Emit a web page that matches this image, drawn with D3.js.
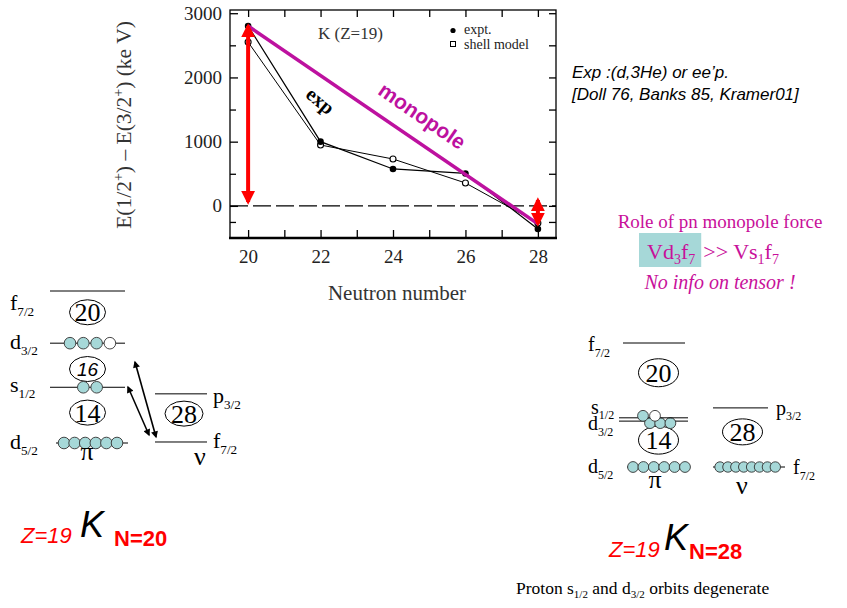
<!DOCTYPE html>
<html>
<head>
<meta charset="utf-8">
<script src="https://cdn.jsdelivr.net/npm/d3@7"></script>
<style>
  body { margin: 0; background: #fff; }
  svg { display: block; }
  .serif { font-family: "Liberation Serif", "Times New Roman", serif; }
  .sans { font-family: "Liberation Sans", Arial, sans-serif; }
</style>
</head>
<body>
<div id="chart"></div>
<script>
// chart data
var neutronNumbers = [20, 22, 24, 26, 28];
var exptValues = [2800, 1000, 575, 505, -360];
var shellModelValues = [2550, 948, 730, 357, -266];
var monopoleN = [20, 28];
var monopoleValues = [2800, -280];
var arrowN = [20, 28];
var arrowTop = [2800, 92];
var arrowBottom = [60, -280];
var yMajorTicks = [0, 1000, 2000, 3000];
var yMinorTicks = [-250, 500, 1500, 2500];
var xTicks = [20, 22, 24, 26, 28];
var xMinorTicks = [21, 23, 25, 27];

// level schemes (energy in arbitrary units, occupation of each orbit)
var leftProton = [
  {orb: "d", j: "5/2", e: 0, full: 6, empty: 0},
  {orb: "s", j: "1/2", e: 1.1, full: 2, empty: 0},
  {orb: "d", j: "3/2", e: 1.97, full: 3, empty: 1},
  {orb: "f", j: "7/2", e: 3, full: 0, empty: 0}
];
var leftProtonGaps = [{n: "14", e: 0.6}, {n: "16", e: 1.46, italic: true}, {n: "20", e: 2.58}];
var leftNeutron = [
  {orb: "f", j: "7/2", e: 0.02, full: 0, empty: 0},
  {orb: "p", j: "3/2", e: 0.97, full: 0, empty: 0}
];
var leftNeutronGaps = [{n: "28", e: 0.58}];

var rightProton = [
  {orb: "d", j: "5/2", e: 0, full: 6, empty: 0},
  {orb: "d", j: "3/2", e: 1.11, full: 3, empty: 0},
  {orb: "s", j: "1/2", e: 1.19, full: 1, empty: 1},
  {orb: "f", j: "7/2", e: 3, full: 0, empty: 0}
];
var rightProtonGaps = [{n: "14", e: 0.65}, {n: "20", e: 2.28}];
var rightNeutron = [
  {orb: "f", j: "7/2", e: 0, full: 8, empty: 0},
  {orb: "p", j: "3/2", e: 1.43, full: 0, empty: 0}
];
var rightNeutronGaps = [{n: "28", e: 0.85}];

var W = 847, H = 608;
var svg = d3.select("#chart").append("svg").attr("width", W).attr("height", H);

var magenta = "#bd119f";
var pink = "#c8109a";
var ballFill = "#a6d8d8";

// ---------------- chart ----------------
var x = d3.scaleLinear().domain([19.5, 28.5]).range([230, 556]);
var y = d3.scaleLinear().domain([-500, 3050]).range([238, 10]);

var g = svg.append("g");

g.append("line").attr("x1", x(19.5)).attr("x2", x(28.5)).attr("y1", y(0)).attr("y2", y(0))
  .attr("stroke", "#000").attr("stroke-width", 1.2).attr("stroke-dasharray", "18,5");

function styleAxis(sel) {
  sel.select(".domain").remove();
  sel.selectAll(".tick line").attr("stroke", "#000").attr("stroke-width", 1.3);
  sel.selectAll("text").attr("class", "serif").attr("font-size", 19).attr("fill", "#222");
}

g.append("g").attr("transform", "translate(" + x(19.5) + ",0)")
  .call(d3.axisLeft(y).tickValues(yMajorTicks).tickSize(-8).tickPadding(8).tickFormat(d3.format("d")))
  .call(styleAxis);
g.append("g").attr("transform", "translate(" + x(19.5) + ",0)")
  .call(d3.axisLeft(y).tickValues(yMinorTicks).tickSize(-6).tickFormat(""))
  .call(styleAxis);
g.append("g").attr("transform", "translate(" + x(28.5) + ",0)")
  .call(d3.axisRight(y).tickValues(yMajorTicks.concat(yMinorTicks)).tickSize(-7).tickFormat(""))
  .call(styleAxis);
g.append("g").attr("transform", "translate(0," + y(-500) + ")")
  .call(d3.axisBottom(x).tickValues(xTicks).tickSize(-8).tickPadding(12).tickFormat(d3.format("d")))
  .call(styleAxis);
g.append("g").attr("transform", "translate(0," + y(-500) + ")")
  .call(d3.axisBottom(x).tickValues(xMinorTicks).tickSize(-8).tickFormat(""))
  .call(styleAxis);
g.append("g").attr("transform", "translate(0," + y(3050) + ")")
  .call(d3.axisTop(x).tickValues(xTicks.concat(xMinorTicks)).tickSize(-7).tickFormat(""))
  .call(styleAxis);

g.append("rect").attr("x", x(19.5)).attr("y", y(3050))
  .attr("width", x(28.5) - x(19.5)).attr("height", y(-500) - y(3050))
  .attr("fill", "none").attr("stroke", "#000").attr("stroke-width", 1.3);
g.append("line").attr("x1", x(19.5) - 1).attr("x2", x(28.5) + 1).attr("y1", y(-500)).attr("y2", y(-500))
  .attr("stroke", "#000").attr("stroke-width", 2.5);

var line = d3.line().x(function(d) { return x(d[0]); }).y(function(d) { return y(d[1]); });
var exptPts = d3.zip(neutronNumbers, exptValues);
var smPts = d3.zip(neutronNumbers, shellModelValues);

g.append("path").datum(smPts).attr("d", line).attr("fill", "none").attr("stroke", "#000").attr("stroke-width", 1);
g.append("path").datum(exptPts).attr("d", line).attr("fill", "none").attr("stroke", "#000").attr("stroke-width", 1.2);
g.selectAll(".sm").data(smPts).enter().append("circle")
  .attr("cx", function(d) { return x(d[0]); }).attr("cy", function(d) { return y(d[1]); })
  .attr("r", 3).attr("fill", "#fff").attr("stroke", "#000").attr("stroke-width", 1.1);
g.selectAll(".ex").data(exptPts).enter().append("circle")
  .attr("cx", function(d) { return x(d[0]); }).attr("cy", function(d) { return y(d[1]); })
  .attr("r", 3.3).attr("fill", "#000");

// monopole line
g.append("path").datum(d3.zip(monopoleN, monopoleValues)).attr("d", line)
  .attr("fill", "none").attr("stroke", magenta).attr("stroke-width", 3.5);

// red double arrows
var defs = svg.append("defs");
function arrowMarker(id, color, w, h) {
  defs.append("marker").attr("id", id).attr("viewBox", "0 0 10 10").attr("refX", 8).attr("refY", 5)
    .attr("markerWidth", w).attr("markerHeight", h).attr("markerUnits", "userSpaceOnUse")
    .attr("orient", "auto-start-reverse")
    .append("path").attr("d", "M0,0 L10,5 L0,10 Z").attr("fill", color);
}
arrowMarker("redHead", "#ff0000", 14, 16);
arrowMarker("blackHead", "#000", 9, 7);

arrowN.forEach(function(n, i) {
  g.append("line").attr("x1", x(n)).attr("x2", x(n)).attr("y1", y(arrowBottom[i])).attr("y2", y(arrowTop[i]))
    .attr("stroke", "#ff0000").attr("stroke-width", 4)
    .attr("marker-start", "url(#redHead)").attr("marker-end", "url(#redHead)");
});

// chart texts
g.append("text").attr("class", "serif").attr("x", 318).attr("y", 39).attr("font-size", 17).attr("fill", "#333").text("K (Z=19)");
g.append("circle").attr("cx", 453).attr("cy", 30.5).attr("r", 2.6).attr("fill", "#000");
g.append("rect").attr("x", 450.5).attr("y", 41.5).attr("width", 5).attr("height", 5).attr("fill", "#fff").attr("stroke", "#000").attr("stroke-width", 1);
g.append("text").attr("class", "serif").attr("x", 464).attr("y", 34).attr("font-size", 14).attr("fill", "#222").text("expt.");
g.append("text").attr("class", "serif").attr("x", 464).attr("y", 48.5).attr("font-size", 14).attr("fill", "#222").text("shell model");

g.append("text").attr("class", "serif").attr("font-weight", "bold").attr("font-size", 20)
  .attr("transform", "translate(316,106) rotate(40)").attr("text-anchor", "middle").text("exp");
g.append("text").attr("class", "sans").attr("font-weight", "bold").attr("font-size", 21).attr("fill", magenta)
  .attr("transform", "translate(418,122) rotate(34.5)").attr("text-anchor", "middle").text("monopole");

var yl = g.append("text").attr("class", "serif").attr("font-size", 21.5).attr("fill", "#333")
  .attr("text-anchor", "middle").attr("transform", "translate(131,125) rotate(-90)");
yl.append("tspan").text("E(1/2");
yl.append("tspan").attr("dy", -8).attr("font-size", 14).text("+");
yl.append("tspan").attr("dy", 8).text(") \u2013 E(3/2");
yl.append("tspan").attr("dy", -8).attr("font-size", 14).text("+");
yl.append("tspan").attr("dy", 8).text(") (ke V)");

g.append("text").attr("class", "serif").attr("x", 397).attr("y", 300).attr("font-size", 21)
  .attr("text-anchor", "middle").attr("fill", "#333").text("Neutron number");

// ---------------- helpers ----------------
function subLabel(parent, xx, yy, main, sub, size, color, anchor) {
  var t = parent.append("text").attr("class", "serif").attr("x", xx).attr("y", yy)
    .attr("font-size", size).attr("fill", color || "#000");
  if (anchor) t.attr("text-anchor", anchor);
  t.append("tspan").text(main);
  t.append("tspan").attr("dy", size * 0.28).attr("font-size", size * 0.6).text(sub);
  return t;
}

// o: layout options (line extent, label position, ball placement)
function drawScheme(levels, gaps, ys, o) {
  var grp = svg.append("g");
  gaps.forEach(function(gp) {
    var cx = (o.x0 + o.x1) / 2 + (o.gapDx || 0);
    grp.append("ellipse").attr("cx", cx).attr("cy", ys(gp.e)).attr("rx", o.rx).attr("ry", o.ry)
      .attr("fill", "#fff").attr("stroke", "#000").attr("stroke-width", 1);
    grp.append("text").attr("class", gp.italic ? "sans" : "serif")
      .attr("font-style", gp.italic ? "italic" : "normal")
      .attr("x", cx).attr("y", ys(gp.e) + (gp.italic ? 7 : 9)).attr("text-anchor", "middle")
      .attr("font-size", gp.italic ? 19 : 26).text(gp.n);
  });
  levels.forEach(function(lv, i) {
    var p = o.levels[i];
    var yy = ys(lv.e);
    grp.append("line").attr("x1", p.x0 || o.x0).attr("x2", p.x1 || o.x1).attr("y1", yy).attr("y2", yy)
      .attr("stroke", "#000").attr("stroke-width", 1);
    var balls = d3.range(lv.full + lv.empty).map(function(k) { return {k: k, filled: k < lv.full}; });
    var bx = d3.scaleLinear().domain([0, 1]).range([p.bx0 || 0, (p.bx0 || 0) + (p.step || 0)]);
    grp.selectAll(null).data(balls).enter().append("circle")
      .attr("cx", function(d) { return bx(d.k); })
      .attr("cy", yy + (p.dy || 0))
      .attr("r", o.r)
      .attr("fill", function(d) { return d.filled ? ballFill : "#fff"; })
      .attr("stroke", "#333").attr("stroke-width", 0.9);
    subLabel(grp, p.lx || o.lx, yy + p.ly, lv.orb, lv.j, o.size, "#000");
  });
  return grp;
}

// ---------------- left scheme (N=20) ----------------
var yLeft = d3.scaleLinear().domain([0, 3]).range([443, 291]);
drawScheme(leftProton, leftProtonGaps, yLeft, {
  x0: 50, x1: 125, lx: 10, size: 22, r: 5.8, rx: 18, ry: 12.5, gapDx: 0,
  levels: [
    {x0: 56, x1: 128, bx0: 64, step: 10.6, ly: 6},
    {bx0: 83.3, step: 13.4, ly: 5},
    {bx0: 70, step: 13.3, ly: 6},
    {ly: 19}
  ]
});
drawScheme(leftNeutron, leftNeutronGaps, yLeft, {
  x0: 155, x1: 207, lx: 213, size: 22, r: 5.5, rx: 19, ry: 12.5, gapDx: 3,
  levels: [{ly: 6}, {ly: 9}]
});
svg.append("text").attr("class", "serif").attr("x", 87).attr("y", 460).attr("font-size", 26).attr("text-anchor", "middle").text("\u03c0");
svg.append("text").attr("class", "serif").attr("x", 200).attr("y", 465).attr("font-size", 26).attr("text-anchor", "middle").text("\u03bd");

// excitation arrows
[[135, 362, 156, 437], [128, 387, 149, 435]].forEach(function(a) {
  svg.append("line").attr("x1", a[0]).attr("y1", a[1]).attr("x2", a[2]).attr("y2", a[3])
    .attr("stroke", "#000").attr("stroke-width", 1.6)
    .attr("marker-start", "url(#blackHead)").attr("marker-end", "url(#blackHead)");
});

// ---------------- right scheme (N=28) ----------------
var yRight = d3.scaleLinear().domain([0, 3]).range([467, 343]);
drawScheme(rightProton, rightProtonGaps, yRight, {
  x0: 619, x1: 688, lx: 588, size: 20, r: 5.4, rx: 20, ry: 14, gapDx: 5,
  levels: [
    {x0: 627, x1: 690, bx0: 633, step: 10.4, ly: 6},
    {bx0: 650, step: 10.2, dy: 2, ly: 9},
    {bx0: 643, step: 12, dy: -2, ly: -4, lx: 591},
    {x0: 623, x1: 685, ly: 8}
  ]
});
drawScheme(rightNeutron, rightNeutronGaps, yRight, {
  x0: 713, x1: 768, lx: 776, size: 20, r: 5.2, rx: 20, ry: 13, gapDx: 2,
  levels: [{x1: 785, bx0: 720, step: 7.9, ly: 7, lx: 793}, {ly: 7}]
});
svg.append("text").attr("class", "serif").attr("x", 655).attr("y", 488).attr("font-size", 26).attr("text-anchor", "middle").text("\u03c0");
svg.append("text").attr("class", "serif").attr("x", 742).attr("y", 494).attr("font-size", 26).attr("text-anchor", "middle").text("\u03bd");

// ---------------- side texts ----------------
svg.append("text").attr("class", "sans").attr("font-style", "italic").attr("x", 572).attr("y", 78).attr("font-size", 17).text("Exp :(d,3He) or ee\u2019p.");
svg.append("text").attr("class", "sans").attr("font-style", "italic").attr("x", 572).attr("y", 100).attr("font-size", 17).text("[Doll 76, Banks 85, Kramer01]");

svg.append("text").attr("class", "serif").attr("x", 720).attr("y", 228).attr("font-size", 19).attr("fill", pink).attr("text-anchor", "middle").text("Role of pn monopole force");
var hl = svg.append("rect").attr("fill", "#a6d8d8");
var v1 = svg.append("text").attr("class", "serif").attr("x", 647).attr("y", 259).attr("font-size", 22).attr("fill", pink);
v1.append("tspan").text("Vd");
v1.append("tspan").attr("dy", 5).attr("font-size", 14).text("3");
v1.append("tspan").attr("dy", -5).text("f");
v1.append("tspan").attr("dy", 5).attr("font-size", 14).text("7");
var bb = v1.node().getBBox();
hl.attr("x", bb.x - 8).attr("y", 233).attr("width", bb.width + 14).attr("height", 34);
var v2 = svg.append("text").attr("class", "serif").attr("x", bb.x + bb.width + 8).attr("y", 259).attr("font-size", 22).attr("fill", pink);
v2.append("tspan").text(">> Vs");
v2.append("tspan").attr("dy", 5).attr("font-size", 14).text("1");
v2.append("tspan").attr("dy", -5).text("f");
v2.append("tspan").attr("dy", 5).attr("font-size", 14).text("7");
svg.append("text").attr("class", "serif").attr("font-style", "italic").attr("x", 720).attr("y", 289).attr("font-size", 20).attr("fill", pink).attr("text-anchor", "middle").text("No info on tensor !");

// nucleus labels
function nucleus(nLabel, xz, yz, xk, yk, xn, yn) {
  svg.append("text").attr("class", "sans").attr("font-style", "italic").attr("x", xz).attr("y", yz).attr("font-size", 22).attr("fill", "#ff0000").text("Z=19");
  svg.append("text").attr("class", "sans").attr("font-style", "italic").attr("x", xk).attr("y", yk).attr("font-size", 36).attr("fill", "#000").text("K");
  svg.append("text").attr("class", "sans").attr("font-weight", "bold").attr("x", xn).attr("y", yn).attr("font-size", 22).attr("fill", "#ff0000").text(nLabel);
}
nucleus("N=20", 21, 543, 80, 537, 114, 546);
nucleus("N=28", 609, 557, 664, 550, 689, 559);

var pt = svg.append("text").attr("class", "serif").attr("x", 516).attr("y", 594).attr("font-size", 17.5);
pt.append("tspan").text("Proton s");
pt.append("tspan").attr("dy", 4).attr("font-size", 11).text("1/2");
pt.append("tspan").attr("dy", -4).text(" and d");
pt.append("tspan").attr("dy", 4).attr("font-size", 11).text("3/2");
pt.append("tspan").attr("dy", -4).text(" orbits degenerate");
</script>
</body>
</html>
